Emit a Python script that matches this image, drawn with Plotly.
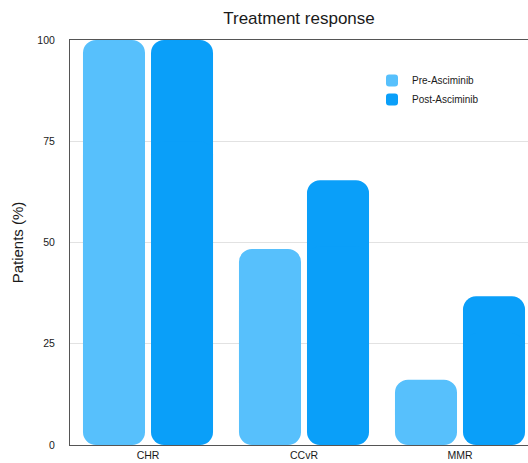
import plotly.graph_objects as go

categories = ["CHR", "CCvR", "MMR"]
pre_asciminib = [100, 48.4, 16.1]
post_asciminib = [100, 65.4, 36.7]
y_ticks = [0, 25, 50, 75, 100]

series = [
    ("Pre-Asciminib", pre_asciminib, "#57C0FC", "pre"),
    ("Post-Asciminib", post_asciminib, "#0A9FF9", "post"),
]

FONT = "Liberation Sans, Arial, Helvetica, sans-serif"
fig = go.Figure()
for name, vals, color, og in series:
    # upper part: rounded top
    fig.add_trace(go.Bar(
        x=categories, y=[v * 0.75 for v in vals], base=[v * 0.25 for v in vals],
        name=name, offsetgroup=og, legendgroup=og, showlegend=True,
        marker=dict(color=color, cornerradius=13, line=dict(width=0)),
        hovertemplate=name + " %{x}: %{customdata}%<extra></extra>", customdata=vals,
    ))
    # lower part: rounded bottom
    fig.add_trace(go.Bar(
        x=categories, y=[-v * 0.75 for v in vals], base=[v * 0.75 for v in vals],
        name=name, offsetgroup=og, legendgroup=og, showlegend=False,
        marker=dict(color=color, cornerradius=13, line=dict(width=0)),
        hoverinfo="skip",
    ))

fig.update_layout(
    width=528, height=463,
    margin=dict(l=70, r=0, t=40, b=18),
    paper_bgcolor="white", plot_bgcolor="white",
    font=dict(family=FONT, color="#222"),
    barmode="group", bargap=0.128, bargroupgap=0.088,
    title=dict(text="Treatment response", x=(70 + 528) / 2 / 528, xanchor="center",
               y=1 - 18 / 463, yanchor="middle", yref="container",
               font=dict(size=17, color="#1a1a1a", family=FONT)),
    legend=dict(x=(372 - 70) / 458, xanchor="left", y=(445 - 66) / 405, yanchor="top",
                font=dict(size=10, color="#1a1a1a"), bgcolor="rgba(0,0,0,0)",
                tracegroupgap=0, traceorder="normal"),
    xaxis=dict(range=[-0.5, -0.5 + 458 / 156], showline=True, linecolor="#555",
               linewidth=1, mirror=True, ticks="", showgrid=False,
               tickfont=dict(size=10.5, color="#1a1a1a"), fixedrange=True),
    yaxis=dict(range=[0, 100], tickvals=y_ticks, showline=True, linecolor="#555",
               linewidth=1, showgrid=True, gridcolor="#e2e2e2", gridwidth=1,
               zeroline=False, ticks="", ticklabelstandoff=12,
               tickfont=dict(size=10.5, color="#1a1a1a"),
               title=dict(text="Patients (%)", font=dict(size=15, color="#1a1a1a"), standoff=10),
               fixedrange=True),
)

fig.write_html("out.html", config={"displayModeBar": False},
               post_script="document.body.style.margin='0';")
